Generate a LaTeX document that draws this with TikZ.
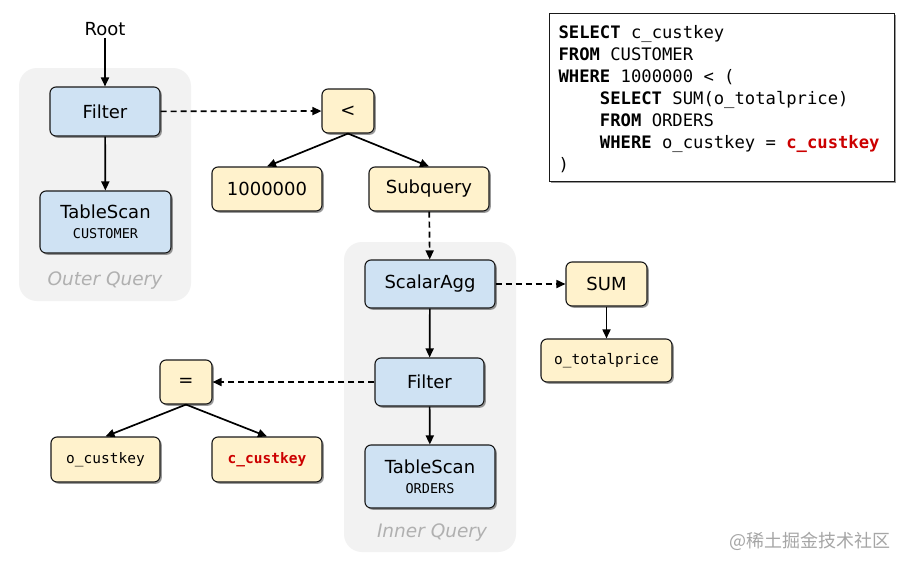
\documentclass[tikz,border=0pt]{standalone}
\usepackage{fontspec}
\setmainfont{DejaVu Sans}
\setmonofont{DejaVu Sans Mono}
\newfontfamily\cjk{Noto Sans CJK SC}
\usetikzlibrary{arrows.meta,shadows}
\definecolor{opblue}{HTML}{CFE2F3}
\definecolor{opyel}{HTML}{FFF2CC}
\definecolor{bggray}{HTML}{F2F2F2}
\definecolor{lblgray}{HTML}{B0B0B0}
\definecolor{keyred}{HTML}{CC0000}
\tikzset{
  box/.style={draw=black!90, rounded corners=6pt, line width=1.1pt,
    drop shadow={shadow xshift=1.8pt, shadow yshift=-1.8pt, opacity=0.4, fill=black},
    font=\fontsize{18}{22}\selectfont, inner sep=0pt, align=center},
  bluebox/.style={box, fill=opblue},
  yelbox/.style={box, fill=opyel},
  bgbox/.style={fill=bggray, rounded corners=18pt, draw=none, inner sep=0pt},
  grouplbl/.style={font=\fontsize{18.5}{20}\selectfont\itshape, text=lblgray},
  arr/.style={-{Triangle[length=9pt,width=8pt]}, line width=1.7pt, black},
  darr/.style={arr, dash pattern=on 6pt off 4pt},
  sqlbox/.style={draw=black!90, fill=white, line width=1.1pt,
    drop shadow={shadow xshift=1.8pt, shadow yshift=-1.8pt, opacity=0.4, fill=black},
    font=\ttfamily\fontsize{17.2}{22}\selectfont, align=left, inner xsep=9pt, inner ysep=0pt}
}
\newcommand{\smallmono}{\ttfamily\fontsize{13.5}{16}\selectfont}
\newcommand{\keymono}{\ttfamily\fontsize{14.5}{16}\selectfont}
\newcommand{\msp}{\hphantom{X}}
\begin{document}
\begin{tikzpicture}[x=1pt,y=-1pt]
\useasboundingbox (0,0) rectangle (908,568);
\fill[white] (0,0) rectangle (908,568);
% group backgrounds
\node[bgbox, minimum width=172pt, minimum height=233pt] (outerbg) at (105,184.5) {};
\node[bgbox, minimum width=172pt, minimum height=310pt] (innerbg) at (430,397) {};
\node[grouplbl] (outerlbl) at (105,281) {Outer Query};
\node[grouplbl] (innerlbl) at (432,533) {Inner Query};
% root
\node[font=\fontsize{18}{22}\selectfont, inner sep=2pt] (root) at (105,29) {Root};
% outer query
\node[bluebox, minimum width=110pt, minimum height=49pt] (f1) at (105,111.5) {Filter};
\node[bluebox, minimum width=131pt, minimum height=62pt] (ts1) at (105.5,222) {TableScan\\[-2pt]{\smallmono CUSTOMER}};
% expression tree 1
\node[yelbox, minimum width=52pt, minimum height=44pt] (lt) at (348,111) {<};
\node[yelbox, minimum width=110pt, minimum height=44pt] (n1) at (267,189) {1000000};
\node[yelbox, minimum width=120pt, minimum height=44pt] (sq) at (429,189) {Subquery};
% inner query
\node[bluebox, minimum width=130pt, minimum height=48pt] (sa) at (430,284) {ScalarAgg};
\node[bluebox, minimum width=109pt, minimum height=48pt] (f2) at (429.5,382) {Filter};
\node[bluebox, minimum width=130pt, minimum height=63pt] (ts2) at (430,476.5) {TableScan\\[-2pt]{\smallmono ORDERS}};
% aggregate
\node[yelbox, minimum width=81pt, minimum height=44pt] (sum) at (606.5,284) {SUM};
\node[yelbox, minimum width=131pt, minimum height=43pt] (tp) at (606.5,360.5) {\keymono o\_totalprice};
% expression tree 2
\node[yelbox, minimum width=52pt, minimum height=44pt] (eq) at (186,382) {=};
\node[yelbox, minimum width=109pt, minimum height=45pt] (ok) at (105.5,459.5) {\keymono o\_custkey};
\node[yelbox, minimum width=110pt, minimum height=45pt] (ck) at (267,459.5) {\keymono\bfseries\color{keyred}c\_custkey};
% SQL
\node[sqlbox, anchor=north west, text width=327pt, minimum height=168pt] (sql) at (549,13) {%
\rule{0pt}{17pt}\textbf{SELECT}\msp c\_custkey\\
\textbf{FROM}\msp CUSTOMER\\
\textbf{WHERE}\msp 1000000\msp <\msp (\\
\msp\msp\msp\msp\textbf{SELECT}\msp SUM(o\_totalprice)\\
\msp\msp\msp\msp\textbf{FROM}\msp ORDERS\\
\msp\msp\msp\msp\textbf{WHERE}\msp o\_custkey\msp =\msp \textcolor{keyred}{\textbf{c\_custkey}}\\
)};
% watermark
\node[font=\cjk\fontsize{18}{20}\selectfont, text=black!35] (wm) at (810,541) {@稀土掘金技术社区};
% edges
\draw[arr] (root) -- (f1);
\draw[arr] (f1) -- (ts1);
\draw[darr] (f1) -- (lt);
\draw[arr] (lt.south) -- (n1.north);
\draw[arr] (lt.south) -- (sq.north);
\draw[darr] (sq) -- (sa);
\draw[darr] (sa) -- (sum);
\draw[arr] (sum) -- (tp);
\draw[arr] (sa) -- (f2);
\draw[arr] (f2) -- (ts2);
\draw[darr] (f2) -- (eq);
\draw[arr] (eq.south) -- (ok.north);
\draw[arr] (eq.south) -- (ck.north);
\end{tikzpicture}
\end{document}
